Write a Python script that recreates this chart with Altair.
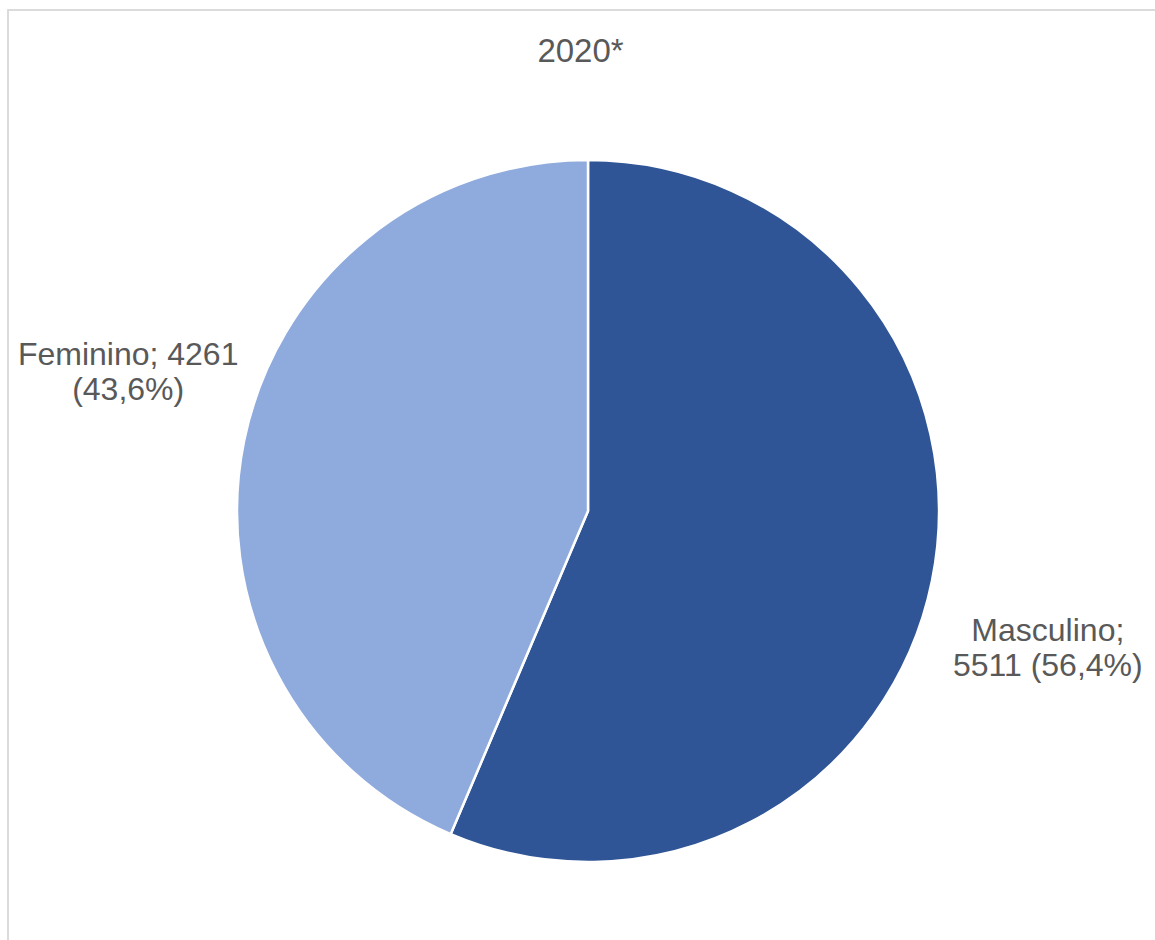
import altair as alt
import pandas as pd

categories = ["Masculino", "Feminino"]
values = [5511, 4261]
labels = ["Masculino;\n5511 (56,4%)", "Feminino; 4261\n(43,6%)"]
colors = ["#2F5597", "#8FAADC"]

df = pd.DataFrame({
    "sexo": categories,
    "valor": values,
    "rotulo": labels,
    "ordem": list(range(len(categories))),
})

CX, CY = 580, 501

base = alt.Chart(df).encode(
    theta=alt.Theta("valor:Q", stack=True),
    order=alt.Order("ordem:Q"),
    x=alt.value(CX),
    y=alt.value(CY),
)

pie = base.mark_arc(outerRadius=351, stroke="white", strokeWidth=2.5).encode(
    color=alt.Color("sexo:N", scale=alt.Scale(domain=categories, range=colors), legend=None)
)

text = base.mark_text(
    radius=480, thetaOffset=0.09, font="Liberation Sans", fontSize=32,
    color="#595959", lineBreak="\n", lineHeight=35, align="center", baseline="middle", dy=-18
).encode(text="rotulo:N")

border = alt.Chart(df).mark_rect(fill=None, stroke="#d9d9d9", strokeWidth=1.5).encode(
    x=alt.value(0), x2=alt.value(1200), y=alt.value(0), y2=alt.value(1000)
)

chart = (border + pie + text).properties(
    width=1147,
    height=930,
    padding={"left": 8, "top": 10, "right": 0, "bottom": 0},
    autosize=alt.AutoSizeParams(type="none"),
    title=alt.TitleParams(
        "2020*", font="Liberation Sans", fontSize=33, fontWeight="normal",
        color="#595959", anchor="middle", baseline="alphabetic", offset=0, dy=86, dx=-1
    ),
).configure_view(stroke=None)

chart.save("out.html", embed_options={"renderer": "svg", "actions": False})
